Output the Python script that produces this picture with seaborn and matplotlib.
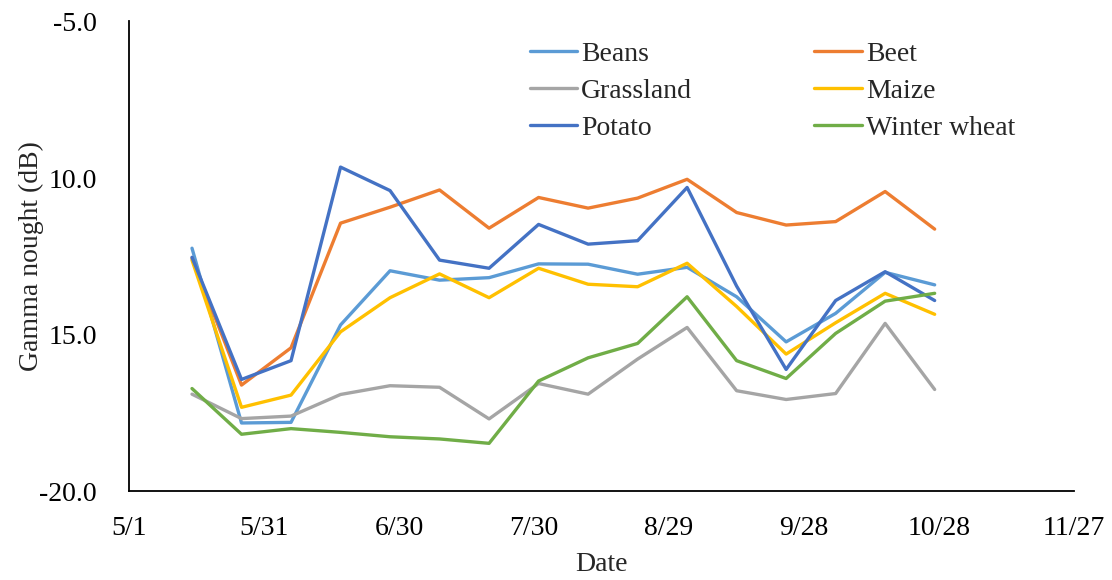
import matplotlib
matplotlib.use("Agg")
import matplotlib.pyplot as plt
import seaborn as sns
import pandas as pd
import numpy as np

# Acquisition dates (one scene roughly every 11 days)
dates = ["2018-05-15", "2018-05-26", "2018-06-06", "2018-06-17", "2018-06-28",
         "2018-07-09", "2018-07-20", "2018-07-31", "2018-08-11", "2018-08-22",
         "2018-09-02", "2018-09-13", "2018-09-24", "2018-10-05", "2018-10-16",
         "2018-10-27"]

# Mean gamma nought per crop type (dB)
beans = [-12.24, -17.82, -17.80, -14.69, -12.96, -13.26, -13.18, -12.74,
         -12.75, -13.07, -12.85, -13.79, -15.23, -14.32, -13.01, -13.41]
beet = [-12.56, -16.61, -15.42, -11.44, -10.93, -10.38, -11.60, -10.62,
        -10.96, -10.64, -10.04, -11.10, -11.50, -11.39, -10.43, -11.63]
grassland = [-16.90, -17.68, -17.60, -16.91, -16.63, -16.68, -17.69, -16.56,
             -16.90, -15.78, -14.77, -16.79, -17.07, -16.88, -14.64, -16.75]
maize = [-12.62, -17.32, -16.93, -14.91, -13.82, -13.06, -13.82, -12.88,
         -13.39, -13.47, -12.72, -14.10, -15.62, -14.62, -13.68, -14.35]
potato = [-12.53, -16.43, -15.83, -9.65, -10.40, -12.62, -12.88, -11.48,
          -12.11, -12.00, -10.30, -13.45, -16.11, -13.91, -12.99, -13.91]
winter_wheat = [-16.72, -18.18, -18.00, -18.12, -18.26, -18.33, -18.47, -16.48,
                -15.74, -15.28, -13.79, -15.83, -16.40, -14.96, -13.93, -13.68]

crops = ["Beans", "Beet", "Grassland", "Maize", "Potato", "Winter wheat"]
series = [beans, beet, grassland, maize, potato, winter_wheat]
colors = ["#5B9BD5", "#ED7D31", "#A5A5A5", "#FFC000", "#4472C4", "#70AD47"]

x_ticks = ["2018-05-01", "2018-05-31", "2018-06-30", "2018-07-30",
           "2018-08-29", "2018-09-28", "2018-10-28", "2018-11-27"]
x_tick_labels = ["5/1", "5/31", "6/30", "7/30", "8/29", "9/28", "10/28", "11/27"]
y_ticks = [-5.0, -10.0, -15.0, -20.0]
y_tick_labels = ["-5.0", "10.0", "15.0", "-20.0"]

df = pd.DataFrame({
    "Date": np.tile(pd.to_datetime(dates), len(crops)),
    "Gamma": np.concatenate(series),
    "Crop": np.repeat(crops, len(dates)),
})

sns.set_style("white")
plt.rcParams["font.family"] = ["Liberation Serif", "DejaVu Serif"]
plt.rcParams["font.size"] = 20

fig = plt.figure(figsize=(11.12, 5.80), dpi=100)
ax = fig.add_axes([0.116, 0.153, 0.850, 0.810])

sns.lineplot(data=df, x="Date", y="Gamma", hue="Crop", hue_order=crops,
             palette=colors, linewidth=2.4, ax=ax, legend=True)

ax.set_xlim(pd.Timestamp(x_ticks[0]), pd.Timestamp(x_ticks[-1]))
ax.set_xticks(pd.to_datetime(x_ticks))
ax.set_xticklabels(x_tick_labels)
ax.set_ylim(-20, -5)
ax.set_yticks(y_ticks)
ax.set_yticklabels(y_tick_labels)

ax.tick_params(axis="both", direction="in", length=7, width=1.0,
               labelsize=20, colors="black")
ax.tick_params(axis="x", pad=18)
ax.tick_params(axis="y", pad=23)

for side in ["top", "right"]:
    ax.spines[side].set_visible(False)
for side in ["left", "bottom"]:
    ax.spines[side].set_color("black")
    ax.spines[side].set_linewidth(1.3)

ax.set_xlabel("Date", fontsize=20, labelpad=8)
ax.set_ylabel("Gamma nought (dB)", fontsize=20, labelpad=-3)

# Legend filled row by row: two columns, three rows
handles, labels = ax.get_legend_handles_labels()
order = [0, 2, 4, 1, 3, 5]
ax.legend([handles[i] for i in order], [labels[i] for i in order], ncol=2,
          frameon=False, loc="upper left", bbox_to_anchor=(0.424, 0.958),
          borderpad=0, borderaxespad=0, handlelength=1.7, handletextpad=0.15,
          columnspacing=4.4, labelspacing=0.42, fontsize=20)

fig.savefig("out.png", dpi=100)
